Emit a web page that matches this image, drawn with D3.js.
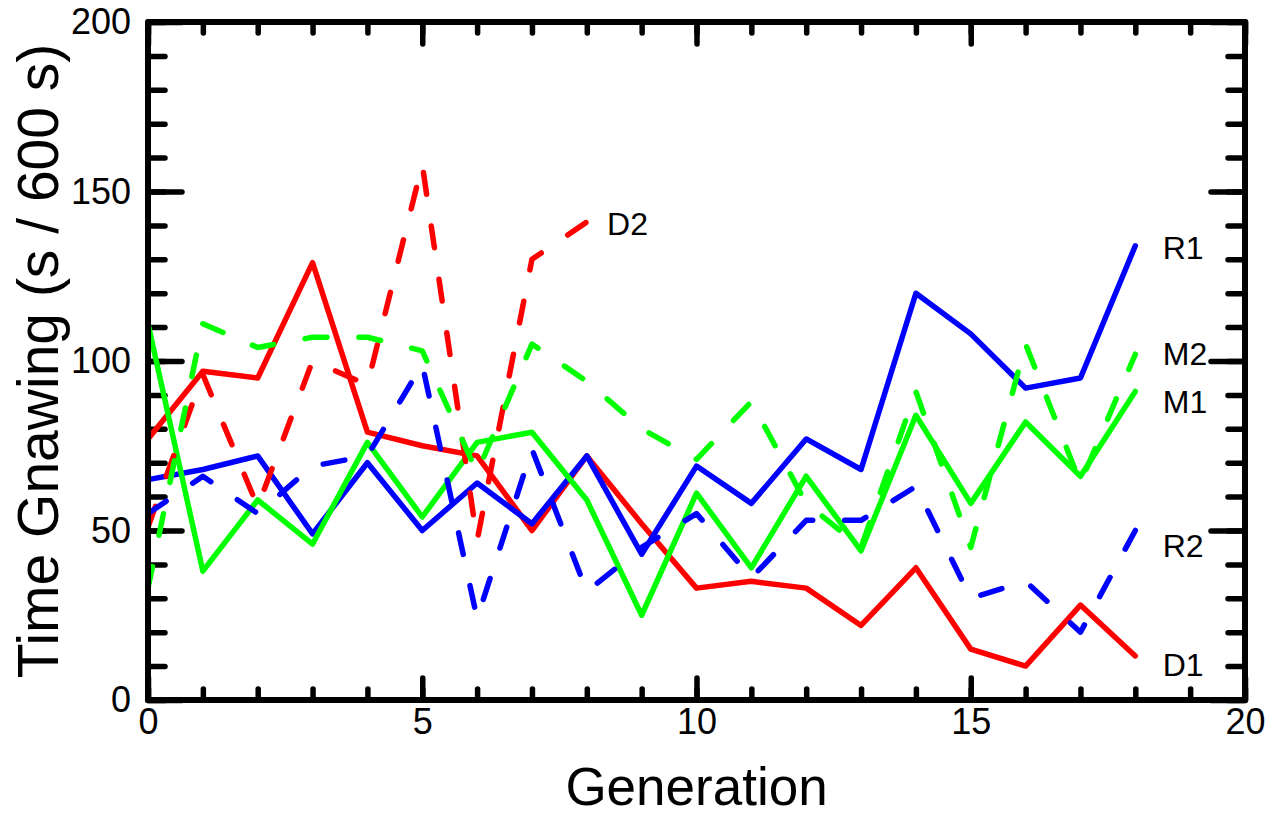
<!DOCTYPE html>
<html>
<head>
<meta charset="utf-8">
<script src="https://cdn.jsdelivr.net/npm/d3@7"></script>
<style>
  body { margin: 0; background: #fff; }
  svg { display: block; }
  text { font-family: "Liberation Sans", Arial, sans-serif; fill: #000; }
</style>
</head>
<body>
<div id="chart"></div>
<script>
// generations (x) for every series
var generation = [0, 1, 2, 3, 4, 5, 6, 7, 8, 9, 10, 11, 12, 13, 14, 15, 16, 17, 18];

// solid lines
var D1 = [77, 97, 95, 129, 79, 75, 72, 50, 72, 52, 33, 35, 33, 22, 39, 15, 10, 28, 13];
var R1 = [65, 68, 72, 49, 70, 50, 64, 52, 72, 43, 69, 58, 77, 68, 120, 108, 92, 95, 134];
var M1 = [111, 38, 59, 46, 76, 54, 76, 79, 59, 25, 61, 39, 66, 44, 84, 58, 82, 66, 91];

// dashed lines (D2 stops at generation 8)
var D2 = [51, 96, 57, 100, 93, 158, 47, 130, 141];
var R2 = [55, 66, 55, 69, 72, 99, 24, 74, 32, 45, 55, 36, 53, 53, 63, 30, 35, 20, 50];
var M2 = [33, 111, 104, 107, 107, 103, 67, 105, 94, 80, 71, 88, 58, 45, 91, 45, 105, 64, 102];

// end labels: text, x and y in data units
var labelNames = ["R1", "M2", "M1", "R2", "D1", "D2"];
var labelX = [18.5, 18.5, 18.5, 18.5, 18.5, 8.37];
var labelY = [133.5, 102, 88, 45.5, 10.5, 140.5];

var xTicksMajor = [0, 5, 10, 15, 20];
var yTicksMajor = [0, 50, 100, 150, 200];

var W = 1279, H = 815;
var plotLeft = 148, plotRight = 1245, plotTop = 22, plotBottom = 700;

var svg = d3.select("#chart").append("svg")
  .attr("width", W)
  .attr("height", H);

var x = d3.scaleLinear().domain([0, 20]).range([plotLeft, plotRight]);
var y = d3.scaleLinear().domain([0, 200]).range([plotBottom, plotTop]);

var xMinor = d3.range(0, 21, 1);
var yMinor = d3.range(0, 201, 10);

// ticks, all pointing into the plot
function styleAxis(g) {
  g.select(".domain").remove();
  g.selectAll(".tick line")
    .attr("stroke", "#000")
    .attr("stroke-width", 5.5)
    .attr("stroke-linecap", "round");
  g.selectAll("text").style("font-size", "36px").attr("fill", "#000");
}

svg.append("g").attr("transform", "translate(0," + plotBottom + ")")
  .call(d3.axisBottom(x).tickValues(xMinor).tickSize(-11).tickFormat(""))
  .call(styleAxis);
svg.append("g").attr("transform", "translate(0," + plotBottom + ")")
  .call(d3.axisBottom(x).tickValues(xTicksMajor).tickSize(-22).tickPadding(8).tickFormat(d3.format("d")))
  .call(styleAxis);
svg.append("g").attr("transform", "translate(0," + plotTop + ")")
  .call(d3.axisTop(x).tickValues(xMinor).tickSize(-11).tickFormat(""))
  .call(styleAxis);
svg.append("g").attr("transform", "translate(0," + plotTop + ")")
  .call(d3.axisTop(x).tickValues(xTicksMajor).tickSize(-22).tickFormat(""))
  .call(styleAxis);

svg.append("g").attr("transform", "translate(" + plotLeft + ",0)")
  .call(d3.axisLeft(y).tickValues(yMinor).tickSize(-17).tickFormat(""))
  .call(styleAxis);
svg.append("g").attr("transform", "translate(" + plotLeft + ",0)")
  .call(d3.axisLeft(y).tickValues(yTicksMajor).tickSize(-34).tickPadding(17).tickFormat(d3.format("d")))
  .call(styleAxis);
svg.append("g").attr("transform", "translate(" + plotRight + ",0)")
  .call(d3.axisRight(y).tickValues(yMinor).tickSize(-17).tickFormat(""))
  .call(styleAxis);
svg.append("g").attr("transform", "translate(" + plotRight + ",0)")
  .call(d3.axisRight(y).tickValues(yTicksMajor).tickSize(-34).tickFormat(""))
  .call(styleAxis);

// the data lines
var line = d3.line()
  .x(function(d, i) { return x(generation[i]); })
  .y(function(d) { return y(d); });

var series = [
  {values: D1, color: "#ff0000", dash: null},
  {values: R1, color: "#0000ff", dash: null},
  {values: M1, color: "#00ff00", dash: null},
  {values: D2, color: "#ff0000", dash: "22,32"},
  {values: R2, color: "#0000ff", dash: "22,32"},
  {values: M2, color: "#00ff00", dash: "22,32"}
];

svg.append("g")
  .selectAll("path")
  .data(series)
  .enter().append("path")
    .attr("d", function(d) { return line(d.values); })
    .attr("fill", "none")
    .attr("stroke", function(d) { return d.color; })
    .attr("stroke-width", 5.5)
    .attr("stroke-linejoin", "round")
    .attr("stroke-linecap", "round")
    .attr("stroke-dasharray", function(d) { return d.dash; });

// frame
svg.append("rect")
  .attr("x", plotLeft).attr("y", plotTop)
  .attr("width", plotRight - plotLeft).attr("height", plotBottom - plotTop)
  .attr("fill", "none")
  .attr("stroke", "#000")
  .attr("stroke-width", 6)
  .attr("stroke-linejoin", "round");

// series labels
svg.append("g")
  .selectAll("text")
  .data(labelNames)
  .enter().append("text")
    .attr("x", function(d, i) { return x(labelX[i]); })
    .attr("y", function(d, i) { return y(labelY[i]); })
    .attr("dy", "0.35em")
    .style("font-size", "32px")
    .text(function(d) { return d; });

// axis titles
svg.append("text")
  .attr("x", (plotLeft + plotRight) / 2)
  .attr("y", 805)
  .attr("text-anchor", "middle")
  .style("font-size", "53px")
  .text("Generation");

svg.append("text")
  .attr("transform", "translate(58," + (plotTop + plotBottom) / 2 + ")rotate(-90)")
  .attr("text-anchor", "middle")
  .style("font-size", "57px")
  .text("Time Gnawing (s / 600 s)");
</script>
</body>
</html>
